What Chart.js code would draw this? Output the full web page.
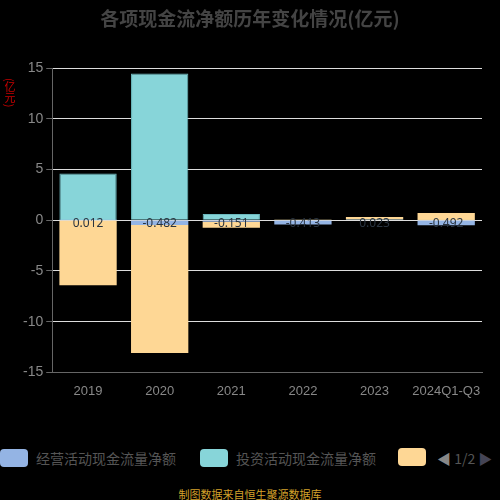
<!DOCTYPE html><html><head><meta charset="utf-8">
<script src="https://cdn.jsdelivr.net/npm/chart.js@4"></script>
<style>body{margin:0;background:#000;width:500px;height:500px;overflow:hidden;font-family:"Noto Sans CJK SC",sans-serif}
#wrap{position:absolute;left:0;top:0;width:500px;height:402px}
#title{position:absolute;top:4px;width:500px;text-align:center;color:#444;font-weight:bold;font-size:19px}
#unit{position:absolute;left:4px;top:78px;color:#c00;font-size:11px;writing-mode:vertical-rl;line-height:11px}
#legend{position:absolute;top:448px;left:0;width:500px;height:24px;color:#555;font-size:14px}
.it{position:absolute;top:0;display:flex;align-items:center}
.bx{width:28px;height:18px;border-radius:4px;margin-right:8px}
#foot{position:absolute;top:486px;width:500px;text-align:center;color:#d4a12a;font-size:11px}
</style></head><body>
<div id="wrap"><canvas id="c" width="500" height="402"></canvas></div>
<div id="title">各项现金流净额历年变化情况(亿元)</div>
<div id="unit">(亿元)</div>
<div id="legend"></div>
<div id="foot">制图数据来自恒生聚源数据库</div>
<script>
const categories=["2019","2020","2021","2022","2023","2024Q1-Q3"];
const seriesNames=["经营活动现金流量净额","投资活动现金流量净额","筹资活动现金流量净额"];
const operating=[0.012,-0.482,-0.151,-0.413,0.023,-0.492];
const investing=[4.6,14.45,0.6,0.03,0.05,0.02];
const financing=[-6.4,-12.6,-0.6,0.02,0.25,0.68];
const colors=["#94b4e4","#87d5d9","#fed795"];
const yTicks=[-15,-10,-5,0,5,10,15];
const lbl={id:"lbl",afterDatasetsDraw(ch){const c=ch.ctx,x=ch.scales.x,y=ch.scales.y;c.save();c.font="12px 'Noto Sans'";c.fillStyle="#2a3440";c.textAlign="center";c.textBaseline="middle";
operating.forEach((v,i)=>{c.fillText(v.toFixed(3),x.getPixelForValue(i),y.getPixelForValue(0)+3)});c.restore();}};
new Chart(document.getElementById("c"),{type:"bar",
data:{labels:categories,datasets:seriesNames.map((n,i)=>({label:n,data:[operating,investing,financing][i],backgroundColor:colors[i],borderColor:i==1?"#6bb8bd":colors[i],borderWidth:i==1?1:0,categoryPercentage:0.8,barPercentage:1}))},
options:{responsive:false,animation:false,layout:{padding:{left:20,right:18,top:68,bottom:0}},
plugins:{legend:{display:false},tooltip:{enabled:false}},
scales:{x:{stacked:true,grid:{display:false,drawTicks:true},border:{color:"#666"},ticks:{color:"#888",font:{size:13},maxRotation:0,minRotation:0,autoSkip:false}},
y:{stacked:true,min:-15,max:15,afterBuildTicks:s=>{s.ticks=yTicks.map(v=>({value:v}))},grid:{color:"#ddd",tickColor:"#666",tickLength:6},border:{color:"#666"},ticks:{color:"#888",font:{size:14},stepSize:5}}}},
plugins:[lbl]});
const lg=document.getElementById("legend");
[[0,seriesNames[0]],[200,seriesNames[1]],[398,""]].forEach(([l,t],i)=>{const d=document.createElement("div");d.className="it";d.style.left=l+"px";d.innerHTML='<div class="bx" style="background:'+colors[i]+'"></div>'+t;lg.appendChild(d);});
const p=document.createElement("div");p.className="it";p.style.left="437px";p.innerHTML='<span style="color:#888">◀</span>&nbsp;<span>1/2</span>&nbsp;<span style="color:#445">▶</span>';lg.appendChild(p);
</script></body></html>
